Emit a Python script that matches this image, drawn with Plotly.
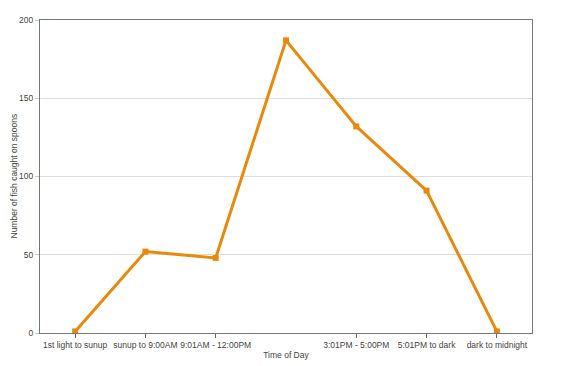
import plotly.graph_objects as go

categories = ["1st light to sunup", "sunup to 9:00AM", "9:01AM - 12:00PM",
              "12:01PM - 3:00PM", "3:01PM - 5:00PM", "5:01PM to dark", "dark to midnight"]
fish_counts = [1, 52, 48, 187, 132, 91, 1]
shown_labels = [0, 1, 2, 4, 5, 6]
y_ticks = [0, 50, 100, 150, 200]

x_idx = list(range(len(categories)))

fig = go.Figure()
fig.add_trace(go.Scatter(
    x=x_idx, y=fish_counts, mode="lines+markers",
    line=dict(color="#E8890C", width=3),
    marker=dict(symbol="square", size=6, color="#E8890C"),
    showlegend=False,
))

font = dict(family="Liberation Sans, Arial, sans-serif", size=8.5, color="#444444")
fig.update_layout(
    width=575, height=366,
    margin=dict(l=40, r=43, t=20, b=33),
    paper_bgcolor="white", plot_bgcolor="white",
    font=font,
    xaxis=dict(
        range=[-0.5, 6.5],
        tickvals=[x_idx[i] for i in shown_labels],
        ticktext=[categories[i] for i in shown_labels],
        tickangle=0, automargin=False,
        ticks="outside", ticklen=4, tickcolor="#666666",
        showline=True, linecolor="#777777", linewidth=1, mirror=True,
        showgrid=False, zeroline=False,
        title=dict(text="Time of Day", standoff=2, font=font),
        tickfont=font,
    ),
    yaxis=dict(
        range=[0, 200],
        tickvals=y_ticks, automargin=False,
        ticks="outside", ticklen=4, tickcolor="#cccccc",
        showline=True, linecolor="#777777", linewidth=1, mirror=True,
        showgrid=True, gridcolor="#dddddd", gridwidth=1, zeroline=False,
        tickfont=font,
    ),
    annotations=[dict(
        text="Number of fish caught on spoons", textangle=-90,
        xref="paper", yref="paper", x=0, y=0.5,
        xanchor="center", yanchor="middle", xshift=-27,
        showarrow=False, font=font,
    )],
)

fig.write_html("out.html")
